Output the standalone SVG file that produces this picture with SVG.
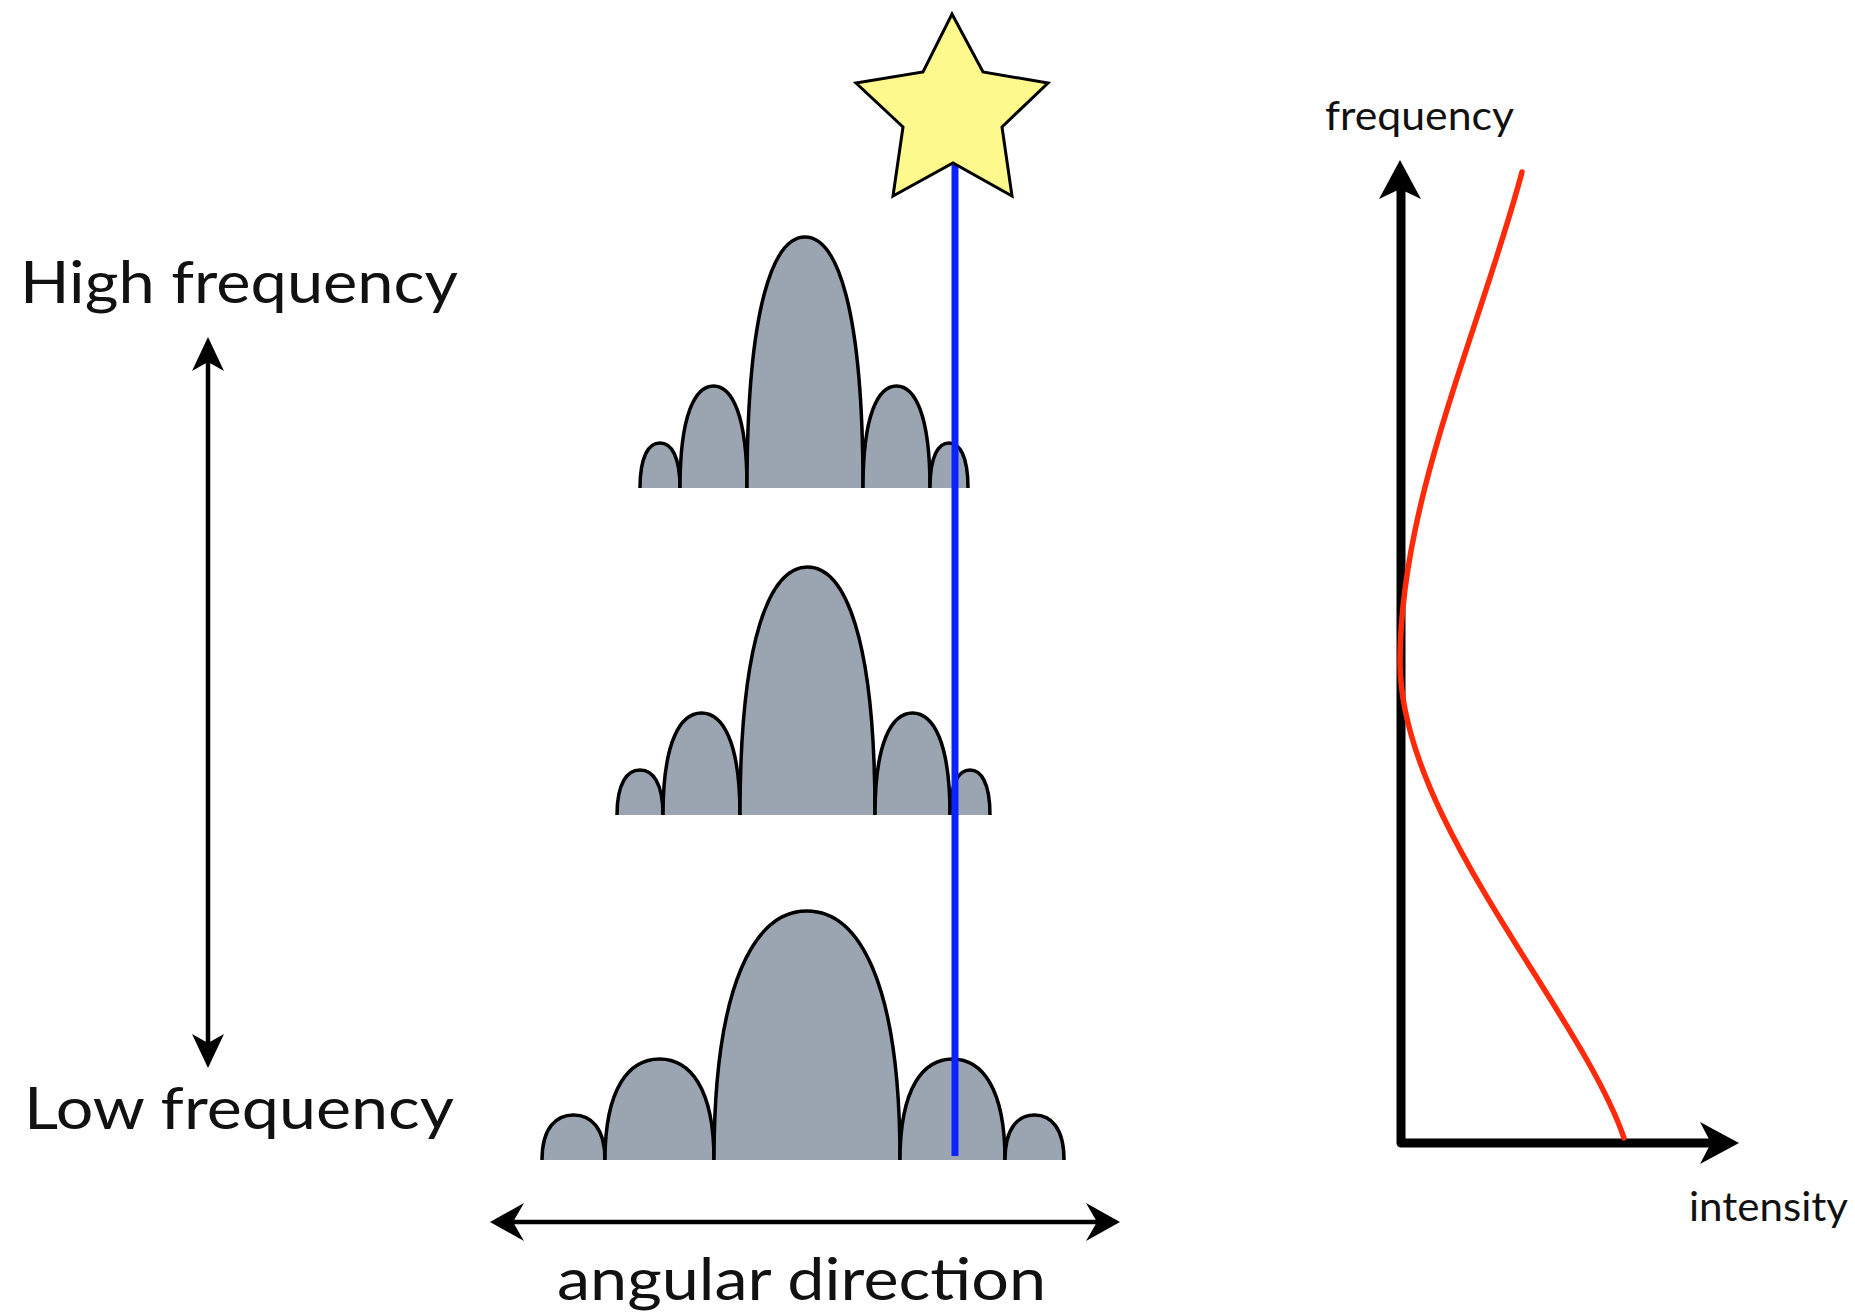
<svg xmlns="http://www.w3.org/2000/svg" width="1855" height="1315" viewBox="0 0 1855 1315">
<style>
.lobe{fill:#9ba4b1;stroke:#000;stroke-width:3.5}
.lbl{font-family:Lato,"Open Sans","Liberation Sans",sans-serif;fill:#111}
.big{font-size:58px}
.small{font-size:40px}
.ax{stroke:#000;stroke-width:9;fill:none;stroke-linejoin:round}
.dbl{stroke:#000;stroke-width:4.5;fill:none}
.head{fill:#000}
</style>
<rect width="1855" height="1315" fill="#fff"/>
<g id="pattern-high">
<path class="lobe" d="M640 488 C640 455.6 649 443 660 443 C671 443 680 455.6 680 488"/>
<path class="lobe" d="M680 488 C680 414.6 695.1 386 713.5 386 C731.9 386 747 414.6 747 488"/>
<path class="lobe" d="M747 488 C747 307.3 773.1 237 805 237 C836.9 237 863 307.3 863 488"/>
<path class="lobe" d="M863 488 C863 414.6 878.1 386 896.5 386 C914.9 386 930 414.6 930 488"/>
<path class="lobe" d="M930 488 C930 455.6 938.6 443 949 443 C959.4 443 968 455.6 968 488"/>
</g>
<g id="pattern-mid">
<path class="lobe" d="M617 815 C617 782.6 627.4 770 640 770 C652.6 770 663 782.6 663 815"/>
<path class="lobe" d="M663 815 C663 741.6 680.3 713 701.5 713 C722.7 713 740 741.6 740 815"/>
<path class="lobe" d="M740 815 C740 636.4 770.4 567 807.5 567 C844.6 567 875 636.4 875 815"/>
<path class="lobe" d="M875 815 C875 741.6 891.9 713 912.5 713 C933.1 713 950 741.6 950 815"/>
<path class="lobe" d="M950 815 C950 782.6 959 770 970 770 C981 770 990 782.6 990 815"/>
</g>
<g id="pattern-low">
<path class="lobe" d="M542 1160 C542 1127.6 556.2 1115 573.5 1115 C590.8 1115 605 1127.6 605 1160"/>
<path class="lobe" d="M605 1160 C605 1087.3 629.5 1059 659.5 1059 C689.5 1059 714 1087.3 714 1160"/>
<path class="lobe" d="M714 1160 C714 980.7 755.9 911 807 911 C858.2 911 900 980.7 900 1160"/>
<path class="lobe" d="M900 1160 C900 1087.3 923.6 1059 952.5 1059 C981.4 1059 1005 1087.3 1005 1160"/>
<path class="lobe" d="M1005 1160 C1005 1127.6 1018.3 1115 1034.5 1115 C1050.7 1115 1064 1127.6 1064 1160"/>
</g>
<g id="connectors">
<line id="sightline" x1="955" y1="165" x2="955" y2="1156" stroke="#0b24ff" stroke-width="7"/>
<g id="freq-arrow">
<line class="dbl" x1="208" y1="352" x2="208" y2="1054"/>
<path class="head" d="M208 337 L224 371 L208 362 L192 371 Z"/>
<path class="head" d="M208 1068 L224 1034 L208 1043 L192 1034 Z"/>
</g>
<g id="angle-arrow">
<line class="dbl" x1="500" y1="1222" x2="1110" y2="1222"/>
<path class="head" d="M490 1222 L524 1203 L513 1222 L524 1241 Z"/>
<path class="head" d="M1120 1222 L1086 1203 L1097 1222 L1086 1241 Z"/>
</g>
<g id="axes">
<path class="ax" d="M1401 185 L1401 1143 L1712 1143"/>
<path class="head" d="M1400 160 L1421 199 L1400 189 L1379 199 Z"/>
<path class="head" d="M1739 1143 L1700 1122 L1711 1143 L1700 1164 Z"/>
</g>
<path id="intensity-curve" d="M1522 172 C1480 330 1400 500 1400 662 C1400 820 1580 1010 1624 1138" fill="none" stroke="#ff2a0a" stroke-width="5.5" stroke-linecap="round"/>
</g>
<g id="star">
<polygon points="952,14 983,72 1048,83 1002,127 1012,196 953,163 893,196 903,127 856,83 923,72" fill="#fdf98c" stroke="#000" stroke-width="3" stroke-linejoin="miter"/>
</g>
<g id="labels">
<text class="lbl big" x="20" y="303" textLength="438" lengthAdjust="spacingAndGlyphs">High frequency</text>
<text class="lbl big" x="24" y="1129" textLength="430" lengthAdjust="spacingAndGlyphs">Low frequency</text>
<text class="lbl big" x="557" y="1300" textLength="489" lengthAdjust="spacingAndGlyphs">angular direction</text>
<text class="lbl small" x="1325" y="130" textLength="189" lengthAdjust="spacingAndGlyphs">frequency</text>
<text class="lbl small" x="1689" y="1221" textLength="159" lengthAdjust="spacingAndGlyphs">intensity</text>
</g>
</svg>
